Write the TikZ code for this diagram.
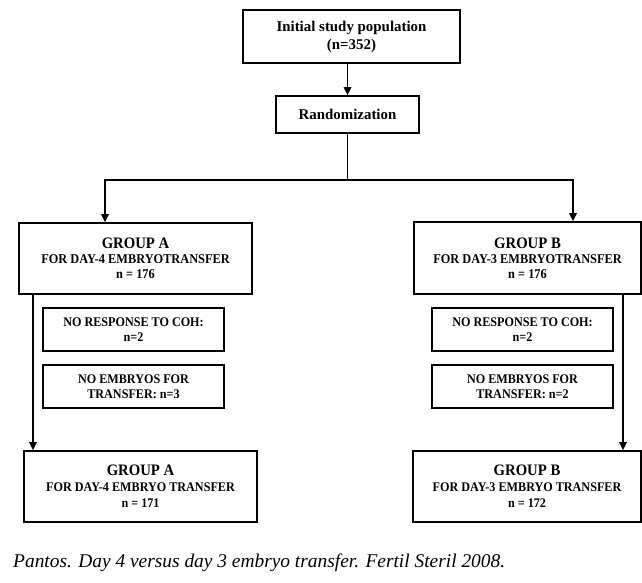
\documentclass[tikz,border=0pt]{standalone}
\usepackage{fontspec}
\setmainfont{Liberation Serif}
\newfontfamily\boxfont[FakeStretch=0.92]{Liberation Serif Bold}
\newfontfamily\topfont{Liberation Serif Bold}
\newcommand{\grphead}[1]{{\fontsize{16}{15}\selectfont #1}}
\usetikzlibrary{arrows.meta}
\begin{document}
\begin{tikzpicture}[x=1pt,y=-1pt,
  box/.style={draw, line width=1.6pt, rectangle, inner sep=0pt, align=center},
  bigtxt/.style={font=\topfont\fontsize{14.9}{18}\selectfont},
  grptxt/.style={font=\boxfont\fontsize{13.4}{15}\selectfont},
  subtxt/.style={font=\boxfont\fontsize{13.2}{15}\selectfont},
  fintxt/.style={font=\boxfont\fontsize{13.2}{16}\selectfont},
  conn/.style={line width=1.6pt},
  arr/.style={line width=1.6pt, -{Triangle[length=8pt,width=7.5pt]}}]
\useasboundingbox (0,0) rectangle (642,582);

\node[box, bigtxt, minimum width=217pt, minimum height=53pt] (top) at (351.5,36.5) {Initial study population\\(n=352)};
\node[box, bigtxt, minimum width=143pt, minimum height=37pt] (rand) at (347.5,114.5) {Randomization};

\node[box, grptxt, minimum width=233pt, minimum height=71pt] (gA) at (135.5,258.5) {\grphead{GROUP A}\\FOR DAY-4 EMBRYOTRANSFER\\n = 176};
\node[box, grptxt, minimum width=227pt, minimum height=72pt] (gB) at (527.5,258) {\grphead{GROUP B}\\FOR DAY-3 EMBRYOTRANSFER\\n = 176};

\node[box, subtxt, minimum width=181pt, minimum height=43pt] (sA1) at (133.5,329.5) {NO RESPONSE TO COH:\\n=2};
\node[box, subtxt, minimum width=181pt, minimum height=43pt] (sA2) at (133.5,386.5) {NO EMBRYOS FOR\\TRANSFER: n=3};
\node[box, subtxt, minimum width=181pt, minimum height=43pt] (sB1) at (522.5,329.5) {NO RESPONSE TO COH:\\n=2};
\node[box, subtxt, minimum width=181pt, minimum height=43pt] (sB2) at (522.5,386.5) {NO EMBRYOS FOR\\TRANSFER: n=2};

\node[box, fintxt, minimum width=233pt, minimum height=71pt] (fA) at (140.5,486.5) {\grphead{GROUP A}\\FOR DAY-4 EMBRYO TRANSFER\\n = 171};
\node[box, fintxt, minimum width=228pt, minimum height=71pt] (fB) at (527,486.5) {\grphead{GROUP B}\\FOR DAY-3 EMBRYO TRANSFER\\n = 172};

\node[anchor=base west, inner sep=0pt, font=\fontsize{19.4}{21}\selectfont\itshape] (cap) at (13,567) {Pantos. Day 4 versus day 3 embryo transfer. Fertil Steril 2008.};

\coordinate (jA) at (105,180);
\coordinate (jB) at (573,180);
\coordinate (lA) at (33,0);
\coordinate (lB) at (623,0);

\draw[arr] (rand.north |- top.south) -- (rand.north);
\draw[conn] (rand.south) -- (rand.south |- jA);
\draw[arr] (rand.south |- jA) -- (jA) -- (jA |- gA.north);
\draw[arr] (rand.south |- jB) -- (jB) -- (jB |- gB.north);
\draw[arr] (lA |- gA.south) -- (lA |- fA.north);
\draw[arr] (lB |- gB.south) -- (lB |- fB.north);
\end{tikzpicture}
\end{document}
